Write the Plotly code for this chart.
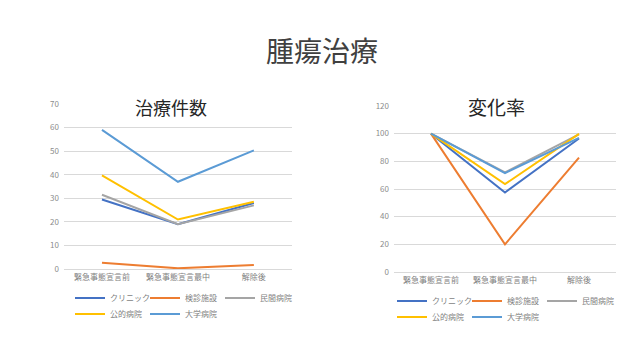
import plotly.graph_objects as go

categories = ["緊急事態宣言前", "緊急事態宣言最中", "解除後"]
series_names = ["クリニック", "検診施設", "民間病院", "公的病院", "大学病院"]
colors = ["#4472C4", "#ED7D31", "#A5A5A5", "#FFC000", "#5B9BD5"]

# 治療件数
count_clinic = [29.5, 19.0, 28.0]
count_kenshin = [2.7, 0.3, 1.7]
count_private = [31.5, 19.0, 27.0]
count_public = [39.7, 21.0, 28.5]
count_univ = [59.0, 37.0, 50.3]

# 変化率
rate_clinic = [100, 57.5, 96.5]
rate_kenshin = [100, 20.0, 82.7]
rate_private = [100, 72.0, 99.5]
rate_public = [100, 63.5, 99.8]
rate_univ = [100, 71.5, 97.0]

count_series = [count_clinic, count_kenshin, count_private, count_public, count_univ]
rate_series = [rate_clinic, rate_kenshin, rate_private, rate_public, rate_univ]

FONT = "Noto Sans CJK JP"
fig = go.Figure()

for i, (name, vals) in enumerate(zip(series_names, count_series)):
    fig.add_trace(go.Scatter(
        x=categories, y=vals, name=name, mode="lines",
        line=dict(color=colors[i], width=2),
        xaxis="x", yaxis="y",
        legend="legend" if i < 3 else "legend2",
    ))
for i, (name, vals) in enumerate(zip(series_names, rate_series)):
    fig.add_trace(go.Scatter(
        x=categories, y=vals, name=name, mode="lines",
        line=dict(color=colors[i], width=2),
        xaxis="x2", yaxis="y2",
        legend="legend3" if i < 3 else "legend4",
    ))

grid = "#D9D9D9"
tickfont = dict(family=FONT, size=8, color="#8C8C8C")
xtickfont = dict(family=FONT, size=8, color="#7F7F7F")

def xax(domain, anchor):
    return dict(domain=domain, anchor=anchor, type="category",
                range=[-0.5, 2.5], showgrid=False, showline=True,
                linecolor=grid, linewidth=1, ticks="", tickfont=xtickfont,
                fixedrange=True, zeroline=False, automargin=False)

def yax(domain, anchor, rng, dtick):
    return dict(domain=domain, anchor=anchor, range=rng, dtick=dtick,
                showgrid=True, gridcolor=grid, gridwidth=1, zeroline=False,
                showline=False, ticks="", tickfont=tickfont,
                ticklabelstandoff=4, fixedrange=True, automargin=False)

legend_common = dict(orientation="h", font=dict(family=FONT, size=8, color="#7F7F7F"),
                     bgcolor="rgba(0,0,0,0)", entrywidth=30, entrywidthmode="pixels",
                     xanchor="left", yanchor="middle", tracegroupgap=0)

def title_ann(text, x, y, size, color):
    return dict(text=text, x=x / 640, y=1 - y / 360, xref="paper", yref="paper",
                xanchor="center", yanchor="middle", showarrow=False,
                font=dict(family=FONT, size=size, color=color))

fig.update_layout(
    width=640, height=360,
    margin=dict(l=0, r=0, t=0, b=0, autoexpand=False),
    paper_bgcolor="white", plot_bgcolor="white",
    showlegend=True,
    xaxis=xax([0.100, 0.456], "y"),
    yaxis=yax([1 - 269 / 360, 1 - 104 / 360], "x", [0, 70], 10),
    xaxis2=xax([0.6156, 0.9625], "y2"),
    yaxis2=yax([1 - 272 / 360, 1 - 106 / 360], "x2", [0, 120], 20),
    legend=dict(legend_common, x=70 / 640, y=1 - 298 / 360),
    legend2=dict(legend_common, x=70 / 640, y=1 - 314 / 360),
    legend3=dict(legend_common, x=392 / 640, y=1 - 301 / 360),
    legend4=dict(legend_common, x=392 / 640, y=1 - 317 / 360),
    annotations=[
        title_ann("腫瘍治療", 322, 50, 28, "#404040"),
        title_ann("治療件数", 171, 107, 18, "#262626"),
        title_ann("変化率", 496, 106, 19, "#262626"),
    ],
)

fig.write_html("out.html", config={"displayModeBar": False},
               post_script="document.body.style.margin='0';")
